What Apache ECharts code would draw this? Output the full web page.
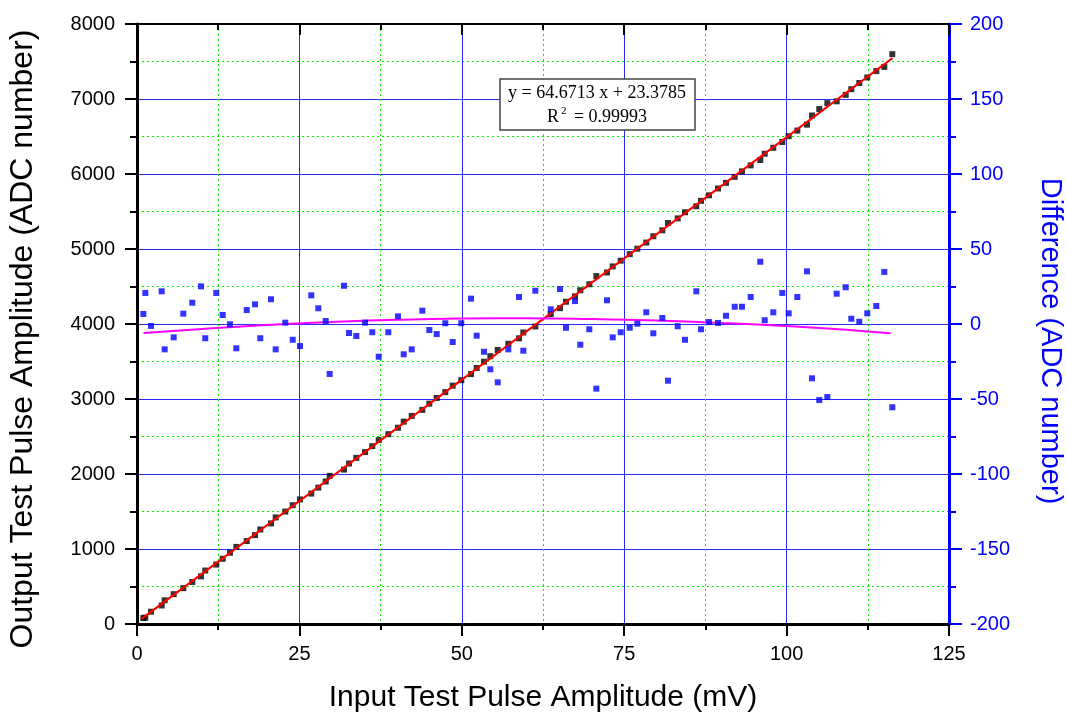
<!DOCTYPE html>
<html>
<head>
<meta charset="utf-8">
<script src="https://cdn.jsdelivr.net/npm/echarts@6/dist/echarts.min.js"></script>
<style>html,body{margin:0;padding:0;background:#fff;overflow:hidden;}#c{width:1066px;height:720px;}</style>
</head>
<body>
<div id="c"></div>
<script>
// Input test pulse amplitude (mV)
var xVals = [0.97,1.28,2.16,3.80,4.26,5.65,7.13,8.51,9.85,10.51,12.20,13.19,14.32,15.29,16.89,18.17,18.98,20.63,21.35,22.83,
  23.97,25.09,26.83,27.91,29.05,29.66,31.87,32.64,33.76,35.10,36.22,37.21,38.69,40.18,41.06,42.29,43.92,45.00,46.14,47.46,
  48.60,49.92,51.42,52.29,53.42,54.39,55.53,57.16,58.81,59.47,61.32,63.69,65.12,66.04,67.43,68.24,69.63,70.71,72.35,73.23,
  74.46,75.85,77.02,78.40,79.48,80.87,81.74,83.24,84.36,86.10,86.82,88.05,89.44,90.67,92.01,93.13,94.47,95.95,96.63,97.95,
  99.34,100.32,101.65,103.14,103.91,105.03,106.27,107.71,109.10,109.96,111.19,112.42,113.81,115.04,116.27];
// Output test pulse amplitude (ADC number)
var outputVals = [79,85,164,247,316,398,478,560,635,713,792,870,950,1028,1106,1185,1260,1341,1421,1499,
  1584,1661,1739,1818,1900,1975,2059,2140,2215,2292,2371,2452,2531,2617,2699,2775,2855,2938,3014,3092,
  3178,3251,3332,3413,3497,3571,3653,3737,3809,3887,3967,4132,4211,4297,4369,4450,4530,4639,4687,4768,
  4844,4931,5004,5086,5170,5249,5347,5408,5490,5570,5642,5716,5807,5882,5962,6035,6115,6187,6270,6350,
  6427,6504,6579,6658,6780,6866,6945,6969,7055,7131,7213,7287,7372,7428,7598];
// Difference (ADC number)
var diffVals = [6.7,20.7,-1.3,21.8,-16.9,-8.9,6.9,14.2,25.1,-9.5,20.7,6.0,-0.2,-16.2,9.3,13.1,-9.5,16.5,-16.9,0.9,
  -10.5,-14.7,19.1,10.5,2.0,-33.3,25.5,-6.0,-8.0,0.9,-5.5,-21.8,-5.5,5.1,-20.2,-16.9,8.9,-4.0,-6.7,0.5,
  -12.0,0.5,16.9,-7.8,-18.5,-30.2,-38.9,-16.9,18.0,-17.8,22.2,9.8,23.3,-2.5,15.3,-13.8,-3.5,-43.1,15.8,-8.9,
  -5.5,-2.5,0.2,7.8,-6.2,4.0,-37.8,-1.5,-10.5,21.8,-3.5,1.3,0.7,5.5,11.5,11.5,18.0,41.5,2.5,7.8,
  20.7,7.1,18.0,35.1,-36.2,-50.7,-48.7,20.2,24.5,3.5,1.5,7.1,12.0,34.7,-55.5];
// Linear fit line (read endpoints)
var fitX = [0.7, 116.3];
var fitY = [69, 7545];
// Fit curve of the difference
var diffFitX = [1,10,20,30,40,50,60,70,80,90,100,110,116];
var diffFitY = [-6.0,-3.3,-0.7,1.3,2.8,3.6,3.8,3.3,2.3,0.7,-1.4,-4.1,-6.1];
var xTicks = [0,25,50,75,100,125];
var leftTicks = [0,1000,2000,3000,4000,5000,6000,7000,8000];
var rightTicks = [-200,-150,-100,-50,0,50,100,150,200];

function zip(a,b){var r=[];for(var i=0;i<a.length;i++){r.push([a[i],b[i]]);}return r;}
function plain(v){return String(v);}

var F = 'Liberation Sans, Arial, sans-serif';
var chart = echarts.init(document.getElementById('c'), null, {renderer:'canvas'});
var option = {
  animation:false,
  backgroundColor:'#fff',
  grid:{left:137,right:117,top:24,bottom:96,containLabel:false,outerBoundsMode:'none'},
  xAxis:[{
    type:'value', position:'bottom',
    min:xTicks[0], max:xTicks[xTicks.length-1], interval:25,
    name:'Input Test Pulse Amplitude (mV)', nameLocation:'middle', nameGap:59,
    nameTextStyle:{fontSize:30,fontFamily:F,color:'#000'},
    axisLine:{show:true,onZero:false,lineStyle:{color:'#000',width:3}},
    axisTick:{show:true,inside:false,length:12,lineStyle:{color:'#000',width:2}},
    minorTick:{show:true,splitNumber:2,length:6,lineStyle:{color:'#000',width:2}},
    axisLabel:{fontSize:20,fontFamily:F,color:'#000',margin:20,formatter:plain},
    splitLine:{show:true,lineStyle:{color:'#2a2aff',width:1}},
    minorSplitLine:{show:true,lineStyle:{color:'#00f000',width:1,type:[2,3]}}
  },{
    type:'value', position:'top',
    min:xTicks[0], max:xTicks[xTicks.length-1], interval:25,
    axisLine:{show:true,onZero:false,lineStyle:{color:'#000',width:2}},
    axisTick:{show:true,inside:true,length:11,lineStyle:{color:'#000',width:2}},
    minorTick:{show:true,splitNumber:2,length:6,lineStyle:{color:'#000',width:2}},
    axisLabel:{show:false},
    splitLine:{show:false}
  }],
  yAxis:[{
    type:'value', position:'left',
    min:leftTicks[0], max:leftTicks[leftTicks.length-1], interval:1000,
    name:'Output Test Pulse Amplitude (ADC number)', nameLocation:'middle', nameGap:98, nameRotate:90,
    nameTextStyle:{fontSize:32,fontFamily:F,color:'#000',padding:[0,30,0,0]},
    axisLine:{show:true,onZero:false,lineStyle:{color:'#000',width:3}},
    axisTick:{show:true,inside:false,length:12,lineStyle:{color:'#000',width:2}},
    minorTick:{show:true,splitNumber:2,length:7,lineStyle:{color:'#000',width:2}},
    axisLabel:{fontSize:20,fontFamily:F,color:'#000',margin:22,formatter:plain},
    splitLine:{show:true,lineStyle:{color:'#2a2aff',width:1}},
    minorSplitLine:{show:true,lineStyle:{color:'#00f000',width:1,type:[2,3]}}
  },{
    type:'value', position:'right',
    min:rightTicks[0], max:rightTicks[rightTicks.length-1], interval:50,
    name:'Difference (ADC number)', nameLocation:'middle', nameGap:86, nameRotate:-90,
    nameTextStyle:{fontSize:29,fontFamily:F,color:'#0000ff',padding:[0,0,0,34]},
    axisLine:{show:true,onZero:false,lineStyle:{color:'#0000ff',width:3}},
    axisTick:{show:true,inside:false,length:13,lineStyle:{color:'#0000ff',width:2}},
    minorTick:{show:true,splitNumber:2,length:7,lineStyle:{color:'#0000ff',width:2}},
    axisLabel:{fontSize:20,fontFamily:F,color:'#0000ff',margin:21,formatter:plain},
    splitLine:{show:false}
  }],
  series:[{
    type:'scatter', xAxisIndex:0, yAxisIndex:0, data:zip(xVals,outputVals),
    symbol:'rect', symbolSize:6, itemStyle:{color:'#000'}, z:3
  },{
    type:'line', xAxisIndex:0, yAxisIndex:0, data:zip(fitX,fitY),
    symbol:'none', lineStyle:{color:'#ff0000',width:2}, z:4
  },{
    type:'line', xAxisIndex:0, yAxisIndex:1, data:zip(diffFitX,diffFitY),
    symbol:'none', smooth:true, lineStyle:{color:'#ff00ff',width:2}, z:4
  },{
    type:'scatter', xAxisIndex:0, yAxisIndex:1, data:zip(xVals,diffVals),
    symbol:'rect', symbolSize:6, itemStyle:{color:'#0000ff'}, z:5
  }],
  graphic:[{
    type:'rect', z:100,
    shape:{x:500,y:79,width:195,height:51},
    style:{fill:'#fff',stroke:'#444',lineWidth:1.5}
  },{
    type:'text', z:101, x:597, y:93,
    style:{text:'y = 64.6713 x + 23.3785', align:'center', verticalAlign:'middle',
      font:'18px "Liberation Serif", "Times New Roman", serif', fill:'#000'}
  },{
    type:'text', z:101, x:597, y:116,
    style:{text:'{r|R}{s|2}{r| = 0.99993}', align:'center', verticalAlign:'middle',
      rich:{
        r:{fontSize:18,fontFamily:'Liberation Serif, Times New Roman, serif',color:'#000',lineHeight:20,verticalAlign:'bottom'},
        s:{fontSize:11,fontFamily:'Liberation Serif, Times New Roman, serif',color:'#000',lineHeight:12,verticalAlign:'top',padding:[0,3,0,2]}
      }}
  }]
};
chart.setOption(option);
</script>
</body>
</html>
